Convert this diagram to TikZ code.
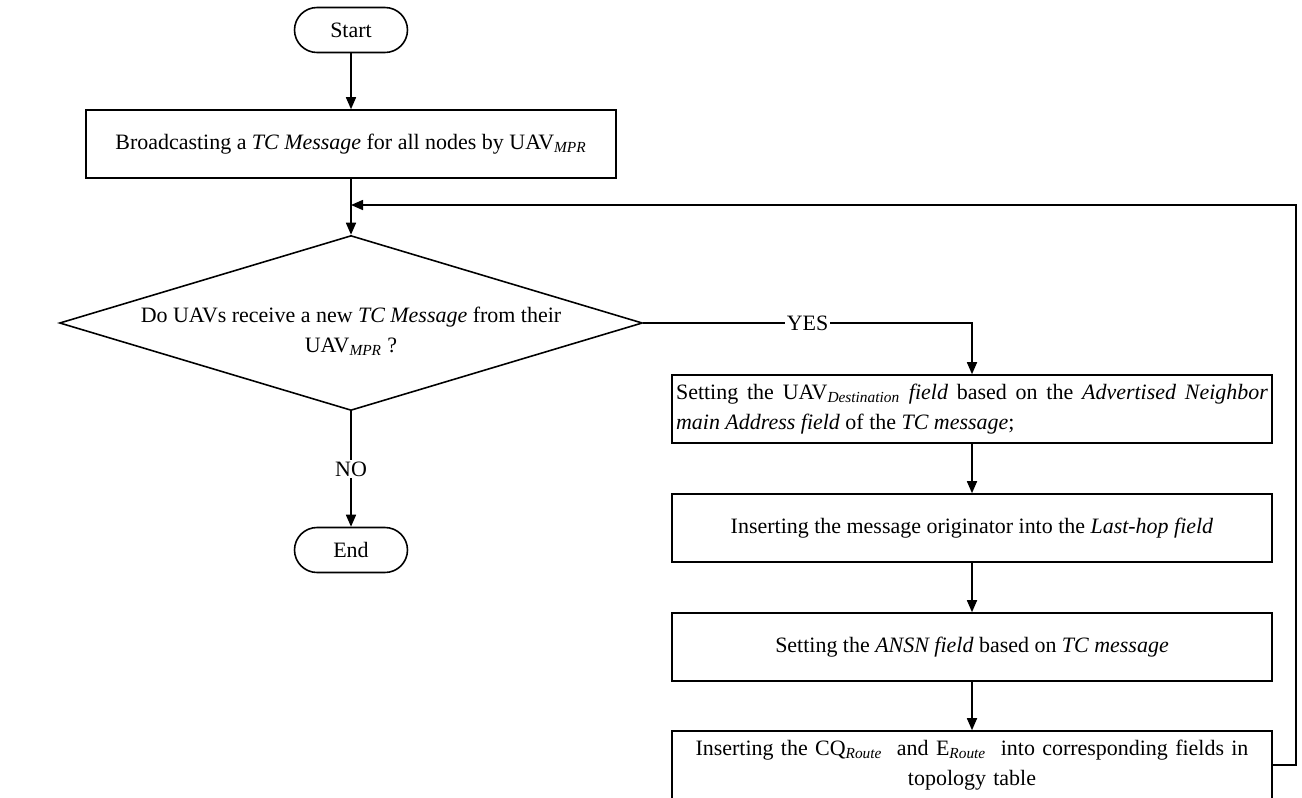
\documentclass[tikz,border=0pt]{standalone}
\usepackage{fontspec}
\setmainfont{Liberation Serif}
\usetikzlibrary{positioning,arrows.meta,shapes.geometric}

\begin{document}
\begin{tikzpicture}[x=0.02cm, y=-0.02cm, line width=0.9pt,
    font=\fontsize{12.5}{17}\selectfont,
    term/.style={draw, rounded corners=0.45cm, minimum width=2.26cm, minimum height=0.9cm},
    procbox/.style={draw, minimum width=12cm, minimum height=1.36cm, inner sep=0.08cm},
    decision/.style={draw, diamond, minimum width=11.66cm, minimum height=3.5cm, inner sep=0pt},
    flow/.style={-{Triangle[length=2.4mm, width=2mm]}}]
  \useasboundingbox (0,0) rectangle (1302,798);
  \node[term] (start) at (351,30) {Start};
  \node[procbox, minimum width=10.6cm] (bcast) at (351,144)
       {Broadcasting a \textit{TC Message} for all nodes by UAV\textsubscript{\textit{MPR}}};
  \coordinate (join) at (351,205);
  \node[decision] (dec) at (351,323) {};
  \node[align=center] (qtext) at (351,331)
       {Do UAVs receive a new \textit{TC Message} from their\\UAV\textsubscript{\textit{MPR}} ?};
  \node[term] (end) at (351,550) {End};
  \node[procbox, text width=11.84cm, align=justify] (set1) at (972,409)
       {Setting the UAV\textsubscript{\textit{Destination}} \textit{field} based on the \textit{Advertised Neighbor}\linebreak
        \textit{main Address field} of the \textit{TC message};};
  \node[procbox] (ins1) at (972,528)
       {Inserting the message originator into the \textit{Last-hop field}};
  \node[procbox] (set2) at (972,647)
       {Setting the \textit{ANSN field} based on \textit{TC message}};
  \node[procbox, text width=11.84cm, align=center] (ins2) at (972,765)
       {Inserting the CQ\textsubscript{\textit{Route}}\ \ and E\textsubscript{\textit{Route}}\ \ into corresponding fields in\\topology table};
  \draw[flow] (start) -- (bcast);
  \draw (bcast) -- (join);
  \draw[flow] (join) -- (dec);
  \draw[flow] (dec.east) -| node[pos=0.25, fill=white, inner sep=1pt] {YES} (set1.north);
  \draw[flow] (dec.south) -- node[fill=white, inner sep=1pt] {NO} (end.north);
  \draw[flow] (set1) -- (ins1);
  \draw[flow] (ins1) -- (set2);
  \draw[flow] (set2) -- (ins2);
  \draw[flow] (ins2.east) -- ++(23,0) |- (join);
\end{tikzpicture}
\end{document}
